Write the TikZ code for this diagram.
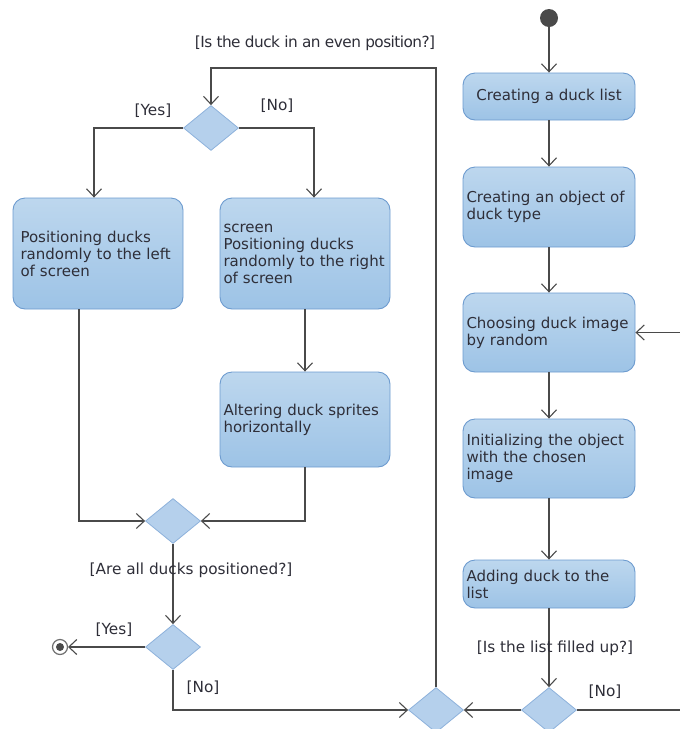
\documentclass[tikz,border=0pt]{standalone}
\usepackage{fontspec}
\setmainfont{DejaVu Sans}
\usetikzlibrary{shapes.geometric,arrows.meta,calc}
\definecolor{boxtop}{HTML}{BDD7EE}
\definecolor{boxbot}{HTML}{9DC3E6}
\definecolor{boxline}{HTML}{6D9BCF}
\definecolor{decfill}{HTML}{B5D0EC}
\definecolor{decline}{HTML}{8DB1DB}
\definecolor{flow}{HTML}{4A4A4A}
\definecolor{txt}{HTML}{2E2E38}
\tikzset{
  x=1pt, y=-1pt,
  action/.style={draw=boxline, line width=0.9pt, rounded corners=12pt,
    top color=boxtop, bottom color=boxbot, text=txt, align=left,
    inner xsep=3.5pt, font=\fontsize{15}{17}\selectfont},
  decision/.style={diamond, draw=decline, line width=0.8pt, fill=decfill,
    minimum width=55pt, minimum height=45pt, inner sep=0pt},
  guard/.style={text=txt, font=\fontsize{15.3}{17}\selectfont, inner sep=0pt},
  flowline/.style={draw=flow, line width=1.3pt,
    -{Straight Barb[length=8pt,width=15pt,line width=1.1pt]}}
}
\begin{document}
\begin{tikzpicture}
\useasboundingbox (0,0) rectangle (680,729);
\clip (0,0) rectangle (680,729);

% right column: building the duck list
\fill[flow] (549,18) circle (9);
\coordinate (start) at (549,27);
\node[action, minimum width=172pt, minimum height=47pt, align=center] (b1) at (549,96.5) {Creating a duck list};
\node[action, text width=165pt, minimum height=80pt] (b2) at (549,207) {Creating an object of\\duck type};
\node[action, text width=165pt, minimum height=79pt] (b3) at (549,332.5) {Choosing duck image\\by random};
\node[action, text width=165pt, minimum height=79pt] (b4) at (549,458.5) {Initializing the object\\with the chosen\\image};
\node[action, text width=165pt, minimum height=48pt] (b5) at (549,584) {Adding duck to the\\list};
\node[decision] (d5) at (549,710) {};
\node[decision] (d4) at (436,710) {};

% left part: positioning the ducks
\node[decision] (d1) at (211,128) {};
\node[action, text width=163pt, minimum height=111pt, inner xsep=3.5pt] (l1) at (98,253.5) {\hspace*{4pt}Positioning ducks\\\hspace*{4pt}randomly to the left\\\hspace*{4pt}of screen};
\node[action, text width=163pt, minimum height=111pt] (r1) at (305,253.5) {screen\\Positioning ducks\\randomly to the right\\of screen};
\node[action, text width=163pt, minimum height=95pt] (r2) at (305,419.5) {Altering duck sprites\\horizontally};
\node[decision] (d2) at (173,521) {};
\node[decision] (d3) at (173,647) {};

% final node
\draw[flow!80, line width=1.2pt, fill=white] (60,647) circle (7.5);
\fill[flow] (60,647) circle (4);
\coordinate (stop) at (68,647);

% control flows, right column
\draw[flowline] (start) -- (b1.north);
\draw[flowline] (b1) -- (b2);
\draw[flowline] (b2) -- (b3);
\draw[flowline] (b3) -- (b4);
\draw[flowline] (b4) -- (b5);
\draw[flowline] (b5) -- (d5);
\coordinate (loopR) at (690,710);
\draw[flowline] (d5.east) -- (loopR) |- (b3.east);
\draw[flowline] (d5.west) -- (d4.east);

% control flows, left part
\coordinate (loopTop) at (436,68);
\draw[flowline] (d4.north) -- (loopTop) -| (d1.north);
\draw[flowline] (d1.west) -| ($(l1.north)+(-4,0)$);
\draw[flowline] (d1.east) -| ($(r1.north)+(9,0)$);
\draw[flowline] (r1) -- (r2);
\draw[flowline] ($(l1.south)+(-19,0)$) |- (d2.west);
\draw[flowline] (r2.south) |- (d2.east);
\draw[flowline] (d2) -- (d3);
\draw[flowline] (d3.west) -- (stop);
\draw[flowline] (d3.south) |- (d4.west);

% guards
\node[guard] at (315,43) {\addfontfeatures{LetterSpace=-3.5}[Is the duck in an even position?]};
\node[guard] at (153,111) {[Yes]};
\node[guard] at (277,106) {[No]};
\node[guard] at (191,570) {[Are all ducks positioned?]};
\node[guard] at (114,630) {[Yes]};
\node[guard] at (203,688) {[No]};
\node[guard] at (555,648) {[Is the list filled up?]};
\node[guard] at (605,692) {[No]};
\end{tikzpicture}
\end{document}
